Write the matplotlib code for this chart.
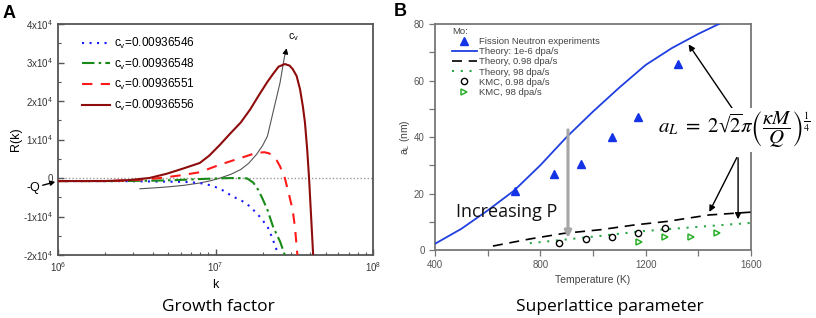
import matplotlib
matplotlib.use("Agg")
import matplotlib.pyplot as plt
import numpy as np
from matplotlib.ticker import FixedLocator, MultipleLocator, LogLocator, NullFormatter

# ---- panel A: growth factor R(k) vs k (log10 k) ----
CV_LABELS = ["0.00936546", "0.00936548", "0.00936551", "0.00936556"]

BLUE_LOGK = [6.0, 6.4, 6.6, 6.8, 6.9, 6.97, 7.03, 7.11, 7.17, 7.22, 7.28, 7.33, 7.36, 7.38, 7.40]
BLUE_R = [-800, -820, -900, -1000, -1300, -1900, -2800, -4800, -6000, -7400, -10000, -12600, -15500, -17800, -20000]

GREEN_LOGK = [6.0, 6.4, 6.6, 6.75, 6.9, 7.03, 7.12, 7.2, 7.24, 7.27, 7.30, 7.33, 7.365, 7.39, 7.41, 7.44]
GREEN_R = [-800, -790, -700, -550, -280, -80, 0, -100, -1200, -3000, -5500, -8300, -12600, -14800, -16500, -20000]

RED_LOGK = [6.0, 6.3, 6.45, 6.55, 6.65, 6.78, 6.9, 7.03, 7.16, 7.22, 7.26, 7.31, 7.34, 7.365, 7.39, 7.41,
            7.44, 7.465, 7.49, 7.505, 7.52]
RED_R = [-800, -790, -650, -350, 0, 700, 1500, 3500, 5200, 6000, 6500, 6700, 6400, 5700, 4500, 3000,
         0, -4000, -8300, -13000, -20000]

DARK_LOGK = [6.0, 6.3, 6.45, 6.58, 6.69, 6.79, 6.9, 6.96, 7.03, 7.09, 7.16, 7.22, 7.28, 7.33, 7.365,
             7.40, 7.44, 7.47, 7.49, 7.515, 7.537, 7.555, 7.568, 7.582, 7.594, 7.607, 7.62]
DARK_R = [-800, -780, -550, 0, 1100, 2400, 3900, 5800, 8700, 11400, 14400, 17800, 21800, 25000, 27000,
          28900, 29600, 29200, 28300, 26500, 23000, 18500, 14400, 7500, 0, -10000, -20000]

GRAY_LOGK = [6.52, 6.6, 6.7, 6.8, 6.9, 6.97, 7.03, 7.1, 7.16, 7.21, 7.26, 7.30, 7.33, 7.365, 7.41, 7.44]
GRAY_R = [-2800, -2600, -2300, -1900, -1300, -700, 0, 1000, 2200, 3800, 6100, 8500, 10900, 17000, 24800, 32000]

# ---- panel B: superlattice parameter vs temperature ----
EXP_T = [704, 852, 955, 1072, 1172, 1324]
EXP_A = [20.9, 26.8, 30.3, 40.0, 47.0, 66.0]

TH_SLOW_T = [400, 500, 600, 700, 800, 900, 1000, 1100, 1200, 1300, 1400, 1500]
TH_SLOW_A = [2.2, 7.5, 14.0, 21.0, 30.0, 40.0, 49.0, 57.5, 65.5, 71.5, 76.5, 81.0]

TH_MID_T = [620, 760, 890, 1030, 1160, 1280, 1440, 1600]
TH_MID_A = [1.4, 3.9, 5.9, 7.2, 8.9, 10.1, 12.4, 13.4]

TH_FAST_T = [760, 1030, 1180, 1400, 1600]
TH_FAST_A = [2.4, 5.0, 6.6, 8.2, 9.6]

KMC_MID_T = [871, 974, 1073, 1172, 1274]
KMC_MID_A = [2.6, 3.9, 4.5, 5.9, 7.9]

KMC_FAST_T = [1175, 1274, 1372, 1471]
KMC_FAST_A = [3.0, 4.5, 4.5, 5.9]

plt.rcParams.update({"font.family": ["Liberation Sans", "DejaVu Sans"], "font.size": 7})

fig = plt.figure(figsize=(8.16, 3.18), dpi=100)
W, H = 816, 318


def fig_axes(x0, y0, x1, y1):
    return fig.add_axes([x0 / W, 1 - y1 / H, (x1 - x0) / W, (y1 - y0) / H])


# ================= Panel A =================
ax = fig_axes(58, 24, 373, 255)
ax.axhline(0, color="#9a9a9a", lw=1.0, ls=(0, (1, 1.5)), zorder=1)
series = [
    (BLUE_LOGK, BLUE_R, "#1a1aff", (0, (1, 2.6)), CV_LABELS[0]),
    (GREEN_LOGK, GREEN_R, "#178a17", (0, (6, 2, 1.2, 2)), CV_LABELS[1]),
    (RED_LOGK, RED_R, "#ff1a1a", (0, (5, 4)), CV_LABELS[2]),
    (DARK_LOGK, DARK_R, "#8e0c0c", "-", CV_LABELS[3]),
]
for lk, r, col, ls, lab in series:
    ax.plot(10 ** np.array(lk), r, color=col, ls=ls, lw=1.5,
            label=r"c$_\mathregular{v}$=" + lab, zorder=3)
ax.plot(10 ** np.array(GRAY_LOGK), GRAY_R, color="#555555", lw=0.8, zorder=2)
ax.annotate("", xy=(10 ** 7.455, 34400), xytext=(10 ** 7.44, 31500),
            arrowprops=dict(arrowstyle="-|>", color="black", lw=0.8, mutation_scale=8))
ax.text(10 ** 7.492, 36500, r"c$_\mathregular{v}$", fontsize=7.5, ha="center", va="center")

ax.set_xscale("log")
ax.set_xlim(1e6, 1e8)
ax.set_ylim(-20000, 40000)
ax.xaxis.set_major_locator(FixedLocator([1e6, 1e7, 1e8]))
ax.set_xticklabels([r"10$^{\mathregular{6}}$", r"10$^{\mathregular{7}}$", r"10$^{\mathregular{8}}$"])
ax.xaxis.set_minor_locator(LogLocator(base=10, subs=np.arange(2, 10)))
ax.xaxis.set_minor_formatter(NullFormatter())
yt = [-20000, -10000, 0, 10000, 20000, 30000, 40000]
ax.set_yticks(yt)
ax.set_yticklabels([r"-2x10$^{\mathregular{4}}$", r"-1x10$^{\mathregular{4}}$", "0",
                    r"1x10$^{\mathregular{4}}$", r"2x10$^{\mathregular{4}}$",
                    r"3x10$^{\mathregular{4}}$", r"4x10$^{\mathregular{4}}$"])
ax.yaxis.set_minor_locator(MultipleLocator(5000))
ax.tick_params(which="both", direction="in", colors="#555555", labelcolor="#333333",
               labelsize=7, top=False, right=False)
ax.tick_params(which="major", length=4, width=1)
ax.tick_params(which="minor", length=2.5, width=0.8)
for s in ax.spines.values():
    s.set_color("#555555")
    s.set_linewidth(1.3)
ax.set_xlabel("k", fontsize=9, labelpad=4)
ax.set_ylabel("R(k)", fontsize=9, labelpad=1)

legA = ax.legend(loc="upper left", bbox_to_anchor=(0.05, 0.985), frameon=False, fontsize=8.5,
                 handlelength=2.4, handletextpad=0.3, labelspacing=0.48, borderpad=0.2)

fig.text(33 / W, 1 - 188 / H, "-Q", fontsize=9, ha="center", va="center")
ax.annotate("", xy=(1.0e6, -800), xycoords="data", xytext=(40 / W, 1 - 186 / H),
            textcoords="figure fraction",
            arrowprops=dict(arrowstyle="-|>", color="black", lw=1.0, mutation_scale=7),
            annotation_clip=False)

fig.text(9 / W, 1 - 13 / H, "A", fontsize=13, fontweight="bold", ha="center", va="center")
fig.text(218 / W, 1 - 307 / H, "Growth factor", fontsize=12.5, family="Open Sans",
         ha="center", va="center")

# ================= Panel B =================
bx = fig_axes(435, 24, 751, 250)
bx.plot(TH_SLOW_T, TH_SLOW_A, color="#1f3fe0", lw=1.3, label="Theory: 1e-6 dpa/s", zorder=3)
bx.plot(TH_MID_T, TH_MID_A, color="black", lw=1.2, ls=(0, (6, 4)), label="Theory, 0.98 dpa/s", zorder=3)
bx.plot(TH_FAST_T, TH_FAST_A, color="#2aa84a", lw=1.5, ls=(0, (1, 3.2)), label="Theory, 98 dpa/s", zorder=3)
bx.plot(EXP_T, EXP_A, ls="none", marker="^", ms=5.5, color="#1433e6",
        label="Fission Neutron experiments", zorder=4)
bx.plot(KMC_MID_T, KMC_MID_A, ls="none", marker="o", ms=4.5, mfc="none", mec="black", mew=1.0,
        label="KMC, 0.98 dpa/s", zorder=4)
bx.plot(KMC_FAST_T, KMC_FAST_A, ls="none", marker=">", ms=5, mfc="none", mec="#2ab02a", mew=1.1,
        label="KMC, 98 dpa/s", zorder=4)

bx.set_xlim(400, 1600)
bx.set_ylim(0, 80)
bx.set_xticks([400, 800, 1200, 1600])
bx.xaxis.set_minor_locator(MultipleLocator(200))
bx.set_yticks([0, 20, 40, 60, 80])
bx.yaxis.set_minor_locator(MultipleLocator(10))
bx.tick_params(which="both", direction="out", colors="#777777", labelcolor="#555555",
               labelsize=7, top=False, right=False)
bx.tick_params(which="major", length=4, width=0.9)
bx.tick_params(which="minor", length=4, width=0.9)
for s in bx.spines.values():
    s.set_color("#777777")
    s.set_linewidth(1.3)
bx.set_xlabel("Temperature (K)", fontsize=7.5, color="#444444", labelpad=3)
bx.set_ylabel(r"a$_\mathregular{L}$ (nm)", fontsize=7.5, color="#444444", labelpad=1)

h, l = bx.get_legend_handles_labels()
order = [3, 0, 1, 2, 4, 5]
legB = bx.legend([h[i] for i in order], [l[i] for i in order], loc="upper left",
                 bbox_to_anchor=(0.03, 1.02), frameon=False, fontsize=6.8, title="Mo:",
                 title_fontsize=6.8, alignment="left", handlelength=2.6, handletextpad=0.25,
                 labelspacing=0.12, borderpad=0.3)
for t in legB.get_texts():
    t.set_color("#444444")
legB.get_title().set_color("#444444")

# increasing pressure arrow
bx.annotate("", xy=(905, 3.3), xytext=(905, 43.5),
            arrowprops=dict(arrowstyle="-|>", color="#a6a6a6", lw=2.2, mutation_scale=10), zorder=5)
bx.text(673, 13.5, "Increasing P", fontsize=13, family="Open Sans", ha="center", va="center",
        color="#111111", zorder=6)

# formula with arrows
arrow_kw = dict(arrowstyle="-|>", color="black", lw=1.0, mutation_scale=9)
bx.annotate("", xy=(1357, 73.6), xytext=(1551, 47.1), arrowprops=arrow_kw, annotation_clip=False)
bx.annotate("", xy=(1437, 12.6), xytext=(1551, 33.6), arrowprops=arrow_kw, annotation_clip=False)
bx.annotate("", xy=(1551, 9.9), xytext=(1551, 33.6), arrowprops=arrow_kw, annotation_clip=False)
fig.text(734 / W, 1 - 130 / H,
         "$\\mathit{a_L}\\ =\\ 2\\mathregular{\u221a}\\overline{2}\\pi\\left(\\dfrac{\\kappa \\mathit{M}}{\\mathit{Q}}\\right)^{\\frac{1}{4}}$",
         fontsize=15, family="Liberation Serif", math_fontfamily="stix", ha="center", va="center",
         zorder=10, bbox=dict(facecolor="white", edgecolor="none", pad=1))

fig.text(400 / W, 1 - 11 / H, "B", fontsize=13, fontweight="bold", ha="center", va="center")
fig.text(610 / W, 1 - 307 / H, "Superlattice parameter", fontsize=12.5, family="Open Sans",
         ha="center", va="center")

fig.savefig("out.png", dpi=100)
